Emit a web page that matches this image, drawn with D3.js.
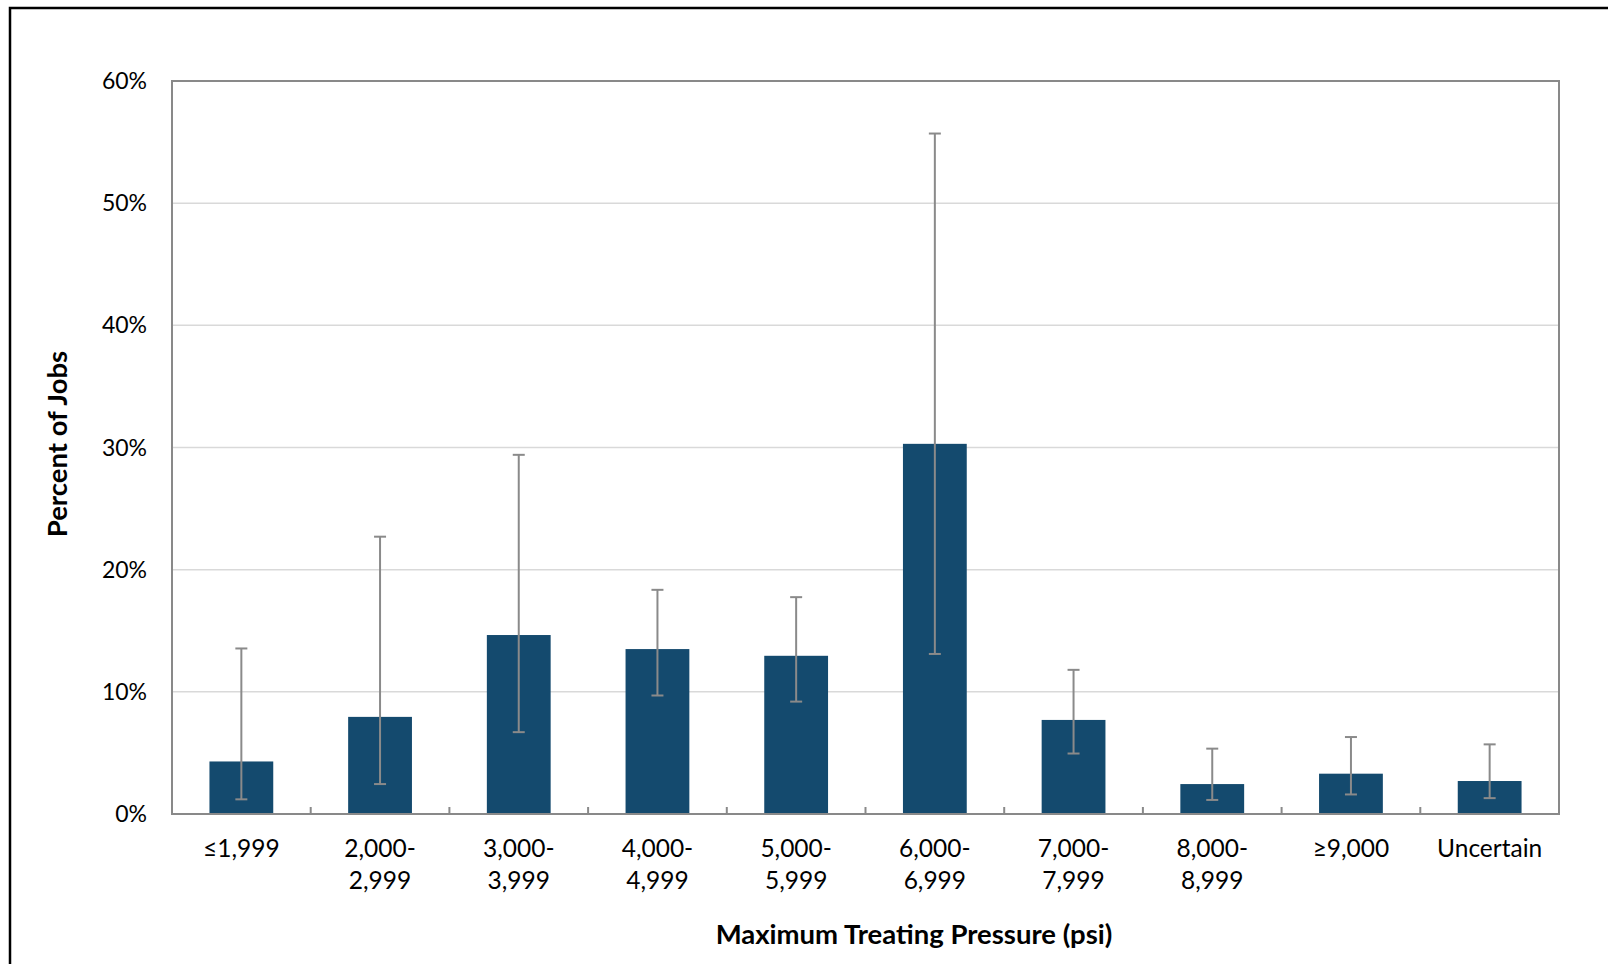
<!DOCTYPE html>
<html>
<head>
<meta charset="utf-8">
<script src="https://cdn.jsdelivr.net/npm/d3@7"></script>
<style>
  html, body { margin: 0; padding: 0; background: #fff; overflow: hidden; }
  text { font-family: Lato, "Open Sans", sans-serif; fill: #000; }
</style>
</head>
<body>
<svg id="chart"></svg>
<script>
const categories = [["≤1,999"], ["2,000-", "2,999"], ["3,000-", "3,999"], ["4,000-", "4,999"],
    ["5,000-", "5,999"], ["6,000-", "6,999"], ["7,000-", "7,999"], ["8,000-", "8,999"],
    ["≥9,000"], ["Uncertain"]];
const percent = [4.3, 7.95, 14.65, 13.5, 12.95, 30.3, 7.7, 2.45, 3.3, 2.7];
const errLow = [1.2, 2.45, 6.7, 9.7, 9.2, 13.1, 4.95, 1.15, 1.6, 1.3];
const errHigh = [13.55, 22.7, 29.4, 18.35, 17.75, 55.7, 11.8, 5.35, 6.3, 5.7];
const yTicks = [0, 10, 20, 30, 40, 50, 60];

const width = 1608,
    height = 964

const margin = { left: 172, right: 49, top: 81, bottom: 150 };

const svg = d3.select("#chart")
    .attr("width", width)
    .attr("height", height)

// outer frame, runs off the right and bottom edges
svg.append("rect")
    .attr("x", 10)
    .attr("y", 8)
    .attr("width", width + 20)
    .attr("height", height + 20)
    .attr("fill", "none")
    .attr("stroke", "#000")
    .attr("stroke-width", 2.5);

const x = d3.scaleBand()
    .domain(d3.range(categories.length))
    .range([margin.left, width - margin.right])
    .padding(0);

const y = d3.scaleLinear()
    .domain([0, 60])
    .range([height - margin.bottom, margin.top]);

const barW = x.bandwidth() * 0.46;

// gridlines
svg.append("g")
    .selectAll("line")
    .data(yTicks.slice(1, -1))
    .enter().append("line")
    .attr("x1", margin.left)
    .attr("x2", width - margin.right)
    .attr("y1", d => y(d))
    .attr("y2", d => y(d))
    .attr("stroke", "#d9d9d9")
    .attr("stroke-width", 1.5);

// bars
svg.append("g")
    .selectAll("rect")
    .data(percent)
    .enter().append("rect")
    .attr("x", (d, i) => x(i) + (x.bandwidth() - barW) / 2)
    .attr("y", d => y(d))
    .attr("width", barW)
    .attr("height", d => y(0) - y(d))
    .attr("fill", "#144a6e");

// error bars
const errs = svg.append("g")
    .attr("stroke", "#8a8a8a")
    .attr("stroke-width", 2)
    .selectAll("g")
    .data(percent.map((d, i) => ({ i: i, lo: errLow[i], hi: errHigh[i] })))
    .enter().append("g")
    .attr("transform", d => `translate(${x(d.i) + x.bandwidth() / 2},0)`);

errs.append("line")
    .attr("y1", d => y(d.lo))
    .attr("y2", d => y(d.hi));
errs.append("line")
    .attr("x1", -6).attr("x2", 6)
    .attr("y1", d => y(d.lo)).attr("y2", d => y(d.lo));
errs.append("line")
    .attr("x1", -6).attr("x2", 6)
    .attr("y1", d => y(d.hi)).attr("y2", d => y(d.hi));

// plot frame
svg.append("rect")
    .attr("x", margin.left)
    .attr("y", margin.top)
    .attr("width", width - margin.left - margin.right)
    .attr("height", height - margin.top - margin.bottom)
    .attr("fill", "none")
    .attr("stroke", "#898989")
    .attr("stroke-width", 2);

// category boundary ticks, pointing up into the plot
svg.append("g")
    .selectAll("line")
    .data(d3.range(1, categories.length))
    .enter().append("line")
    .attr("x1", d => x(d))
    .attr("x2", d => x(d))
    .attr("y1", y(0))
    .attr("y2", y(0) - 7)
    .attr("stroke", "#898989")
    .attr("stroke-width", 2);

// y tick labels
svg.append("g")
    .selectAll("text")
    .data(yTicks)
    .enter().append("text")
    .attr("x", 147)
    .attr("y", d => y(d))
    .attr("dy", "0.35em")
    .attr("text-anchor", "end")
    .attr("font-size", 23)
    .text(d => d + "%");

// x tick labels
const xl = svg.append("g")
    .selectAll("text")
    .data(categories)
    .enter().append("text")
    .attr("x", (d, i) => x(i) + x.bandwidth() / 2)
    .attr("y", 857)
    .attr("text-anchor", "middle")
    .attr("font-size", 24.5);

xl.selectAll("tspan")
    .data(d => d)
    .enter().append("tspan")
    .attr("x", function () { return this.parentNode.getAttribute("x"); })
    .attr("dy", (d, i) => i === 0 ? 0 : 32)
    .text(d => d);

// axis titles
svg.append("text")
    .attr("x", 914)
    .attr("y", 944)
    .attr("text-anchor", "middle")
    .attr("font-size", 27.5)
    .attr("font-weight", "bold")
    .text("Maximum Treating Pressure (psi)");

svg.append("text")
    .attr("transform", "translate(67,444) rotate(-90)")
    .attr("text-anchor", "middle")
    .attr("font-size", 27.5)
    .attr("font-weight", "bold")
    .text("Percent of Jobs");
</script>
</body>
</html>
